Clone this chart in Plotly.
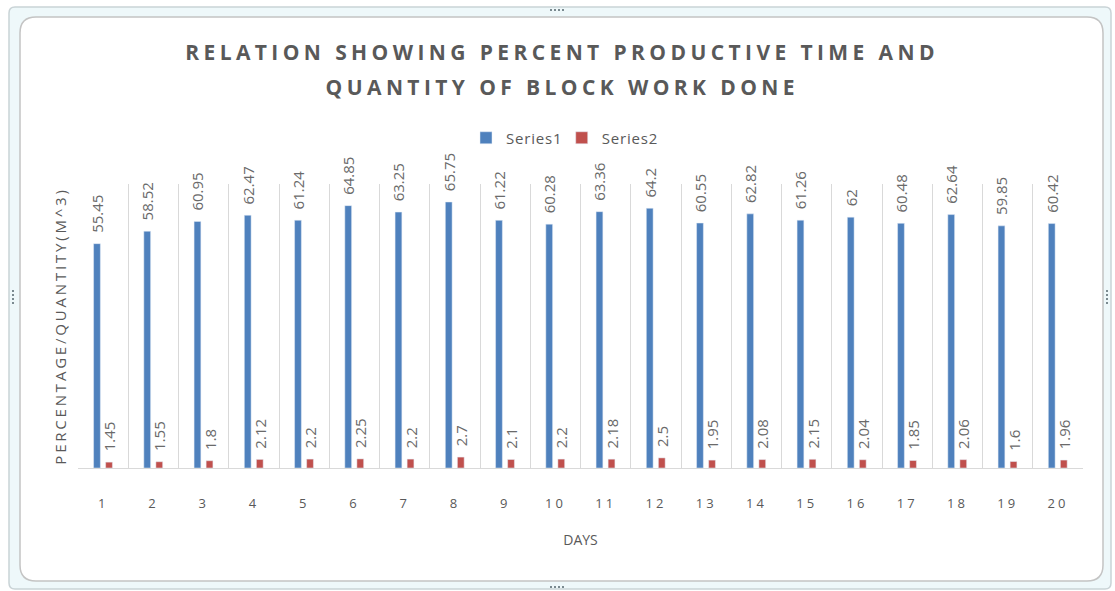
import plotly.graph_objects as go

days = list(range(1, 21))
series1 = [55.45, 58.52, 60.95, 62.47, 61.24, 64.85, 63.25, 65.75, 61.22, 60.28,
           63.36, 64.2, 60.55, 62.82, 61.26, 62, 60.48, 62.64, 59.85, 60.42]
series2 = [1.45, 1.55, 1.8, 2.12, 2.2, 2.25, 2.2, 2.7, 2.1, 2.2,
           2.18, 2.5, 1.95, 2.08, 2.15, 2.04, 1.85, 2.06, 1.6, 1.96]
series_names = ["Series1", "Series2"]
title_lines = ["RELATION SHOWING PERCENT PRODUCTIVE TIME AND", "QUANTITY OF BLOCK WORK DONE"]
x_title = "DAYS"
y_title = "PERCENTAGE/QUANTITY(M^3)"

W, H = 1115, 591
L, R, T, B = 78, 1083, 184, 468
PW, PH = R - L, B - T


def px(x):
    return (x - L) / PW


def py(y):
    return (B - y) / PH


def rrect(x0, y0, x1, y1, r):
    a, b, c, d = px(x0), px(x1), py(y0), py(y1)
    rx, ry = r / PW, r / PH
    return (f"M {a+rx},{c} L {b-rx},{c} Q {b},{c} {b},{c-ry} L {b},{d+ry} "
            f"Q {b},{d} {b-rx},{d} L {a+rx},{d} Q {a},{d} {a},{d+ry} L {a},{c-ry} Q {a},{c} {a+rx},{c} Z")


GRAY = "#595959"
label_font = dict(family="Open Sans", size=15, color="#6a6a6a")
pad = "\u00a0\u00a0"

fig = go.Figure()
fig.add_trace(go.Bar(x=days, y=series1, name=series_names[0], marker_color="#4f81bd",
                     width=0.135, offset=-0.19,
                     texttemplate=pad + "%{y}", textposition="outside", textangle=-90,
                     textfont=label_font, constraintext="none", cliponaxis=False))
fig.add_trace(go.Bar(x=days, y=series2, name=series_names[1], marker_color="#c0504d",
                     width=0.135, offset=0.05,
                     texttemplate=pad + "%{y}", textposition="outside", textangle=-90,
                     textfont=label_font, constraintext="none", cliponaxis=False))

shapes = [
    dict(type="path", xref="paper", yref="paper", path=rrect(9, 7, 1111, 589, 6),
         fillcolor="#eef8fa", line=dict(color="#c9d3d6", width=1.5), layer="below"),
    dict(type="path", xref="paper", yref="paper", path=rrect(20, 17, 1103, 581, 16),
         fillcolor="white", line=dict(color="#c4c4c4", width=1.5), layer="below"),
]
# small handle dots on the frame
for cx, cy, horiz in [(557, 10, True), (557, 587, True), (13, 297, False), (1107, 297, False)]:
    for k in range(4):
        dx, dy = ((k - 1.5) * 4, 0) if horiz else (0, (k - 1.5) * 4)
        shapes.append(dict(type="rect", xref="paper", yref="paper",
                           x0=px(cx + dx - 1), x1=px(cx + dx + 1),
                           y0=py(cy + dy + 1), y1=py(cy + dy - 1),
                           fillcolor="#7a8a90", line=dict(width=0), layer="above"))

annotations = [
    dict(text=title_lines[0], xref="paper", yref="paper", x=px(562), y=py(52),
         xanchor="center", yanchor="middle", showarrow=False,
         font=dict(family="Open Sans", size=21, color=GRAY, weight="bold")),
    dict(text=title_lines[1], xref="paper", yref="paper", x=px(562), y=py(87),
         xanchor="center", yanchor="middle", showarrow=False,
         font=dict(family="Open Sans", size=21, color=GRAY, weight="bold")),
]

fig.update_layout(
    width=W, height=H,
    margin=dict(l=L, r=W - R, t=T, b=H - B),
    paper_bgcolor="white", plot_bgcolor="rgba(0,0,0,0)",
    barmode="group",
    showlegend=True,
    legend=dict(orientation="h", x=px(562), xanchor="center", y=py(138), yanchor="middle",
                font=dict(family="Open Sans", size=15, color=GRAY),
                itemwidth=30, traceorder="normal"),
    xaxis=dict(range=[0.5, 20.5], tickmode="array", tickvals=days,
               ticktext=[str(d) for d in days], showgrid=False, zeroline=False,
               showline=True, linecolor="#d9d9d9", linewidth=1, ticks="",
               ticklabelstandoff=23,
               tickfont=dict(family="Open Sans", size=13, color=GRAY),
               minor=dict(tickmode="array", tickvals=[i + 0.5 for i in range(0, 21)],
                          showgrid=True, gridcolor="#d9d9d9", gridwidth=1, ticks=""),
               title=dict(text=x_title, standoff=24,
                          font=dict(family="Open Sans", size=14, color=GRAY))),
    yaxis=dict(range=[0, 70.2], showgrid=False, zeroline=False, showticklabels=False,
               ticks="", title=dict(text=y_title, standoff=6,
                                    font=dict(family="Open Sans", size=15, color=GRAY))),
    shapes=shapes,
    annotations=annotations,
)

post = """
document.body.style.margin = '0';
var gd = document.getElementById('{plot_id}');
function spacing() {
  gd.querySelectorAll('.annotation-text').forEach(function(e){ e.style.letterSpacing = '4.4px'; });
  gd.querySelectorAll('.xtick text').forEach(function(e){ e.style.letterSpacing = '3px'; });
  gd.querySelectorAll('.ytitle').forEach(function(e){ e.style.letterSpacing = '2.8px'; });
  gd.querySelectorAll('.legendtext').forEach(function(e){ e.style.letterSpacing = '0.8px'; });
}
spacing();
setTimeout(spacing, 30);
if (gd.on) { gd.on('plotly_afterplot', spacing); }
"""

fig.write_html("out.html", post_script=post, config={"displayModeBar": False})
